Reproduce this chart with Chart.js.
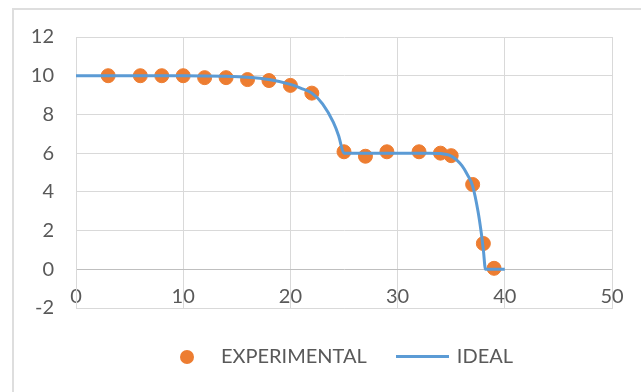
<!DOCTYPE html>
<html>
<head>
<meta charset="utf-8">
<script src="https://cdn.jsdelivr.net/npm/chart.js@4.4.0/dist/chart.umd.min.js"></script>
<style>
  body { margin: 0; background: #fff; overflow: hidden; }
  #wrap { position: relative; width: 641px; height: 392px; }
  #frame { position: absolute; left: 12px; top: 8px; width: 700px; height: 500px; border: 2px solid #dedede; }
  #chart { position: absolute; left: 0; top: 0; }
</style>
</head>
<body>
<div id="wrap">
  <div id="frame"></div>
  <canvas id="chart" width="641" height="392"></canvas>
</div>
<script>
// experimental measurements
const expX = [3, 6, 8, 10, 12, 14, 16, 18, 20, 22, 25, 27, 29, 32, 34, 35, 37, 38, 39];
const expY = [10, 10, 10, 10, 9.9, 9.9, 9.8, 9.75, 9.5, 9.1, 6.07, 5.84, 6.07, 6.07, 6.0, 5.87, 4.38, 1.33, 0.05];

// ideal curve
const idealX = [0, 5, 10, 14, 16, 18, 20, 21, 22, 23, 24, 24.5, 25, 30, 33, 34, 35, 35.5, 36, 36.5, 37, 37.5, 37.8, 38, 38.2, 39, 40];
const idealY = [10, 10, 10, 9.97, 9.92, 9.8, 9.55, 9.35, 9.1, 8.55, 7.6, 6.9, 6, 6, 6, 5.98, 5.85, 5.65, 5.35, 4.9, 4.3, 3.0, 1.9, 1.0, 0, 0, 0];

const seriesNames = ["EXPERIMENTAL", "IDEAL"];
const xTicks = [0, 10, 20, 30, 40, 50];
const yTicks = [-2, 0, 2, 4, 6, 8, 10, 12];

const orange = "#ed7d31";
const blue = "#5b9bd5";
const gridColor = "#d9d9d9";
const textColor = "#595959";

function toPoints(xs, ys) {
  return xs.map((x, i) => ({ x: x, y: ys[i] }));
}

// legend keys drawn like Excel (circle / line)
function circleKey() {
  const c = document.createElement("canvas");
  c.width = 16; c.height = 16;
  const g = c.getContext("2d");
  g.fillStyle = orange;
  g.beginPath(); g.arc(8, 8, 7, 0, Math.PI * 2); g.fill();
  return c;
}
function lineKey() {
  const c = document.createElement("canvas");
  c.width = 53; c.height = 4;
  const g = c.getContext("2d");
  g.fillStyle = blue;
  g.fillRect(0, 0, 53, 3);
  return c;
}
const keys = [circleKey(), lineKey()];

// legend sits a bit right of the canvas centre in the original
const shiftLegend = {
  id: "shiftLegend",
  afterLayout(chart) {
    chart.legend.left += 32;
    chart.legend.right += 32;
  }
};

const ctx = document.getElementById("chart").getContext("2d");
new Chart(ctx, {
  type: "scatter",
  data: {
    datasets: [{
      label: seriesNames[0],
      data: toPoints(expX, expY),
      backgroundColor: orange,
      borderColor: orange,
      pointRadius: 7,
      pointHoverRadius: 7,
      order: 2
    },
    {
      label: seriesNames[1],
      data: toPoints(idealX, idealY),
      showLine: true,
      borderColor: blue,
      backgroundColor: blue,
      borderWidth: 3,
      pointRadius: 0,
      cubicInterpolationMode: "monotone",
      order: 1
    }]
  },
  options: {
    responsive: false,
    animation: false,
    layout: { padding: { left: 0, right: 29, top: 37, bottom: 15 } },
    plugins: {
      tooltip: { enabled: false },
      legend: {
        position: "bottom",
        labels: {
          usePointStyle: true,
          pointStyleWidth: 48,
          boxHeight: 16,
          padding: 32,
          color: textColor,
          font: { family: "Lato", size: 20 },
          sort: (a, b) => a.datasetIndex - b.datasetIndex,
          generateLabels: (chart) => {
            const items = Chart.defaults.plugins.legend.labels.generateLabels(chart);
            items.forEach((it) => { it.pointStyle = keys[it.datasetIndex]; });
            return items;
          }
        }
      }
    },
    scales: {
      x: {
        type: "linear",
        min: xTicks[0],
        max: xTicks[xTicks.length - 1],
        afterBuildTicks: (s) => { s.ticks = xTicks.map(v => ({ value: v })); },
        afterFit: (s) => { s.height = 7; },
        grid: { color: gridColor, drawTicks: false },
        border: { color: gridColor },
        // mirrored labels sit just above the bottom gridline, as in the original
        ticks: { color: textColor, font: { family: "Lato", size: 20 }, padding: -1, mirror: true, maxRotation: 0 }
      },
      y: {
        min: yTicks[0],
        max: yTicks[yTicks.length - 1],
        afterBuildTicks: (s) => { s.ticks = yTicks.map(v => ({ value: v })); },
        afterFit: (s) => { s.width = 76; },
        grid: {
          color: (c) => (c.tick && c.tick.value === 0 ? "#bfbfbf" : gridColor),
          drawTicks: false
        },
        border: { color: gridColor },
        ticks: { color: textColor, font: { family: "Lato", size: 20 }, padding: 22 }
      }
    }
  },
  plugins: [shiftLegend]
});
</script>
</body>
</html>
